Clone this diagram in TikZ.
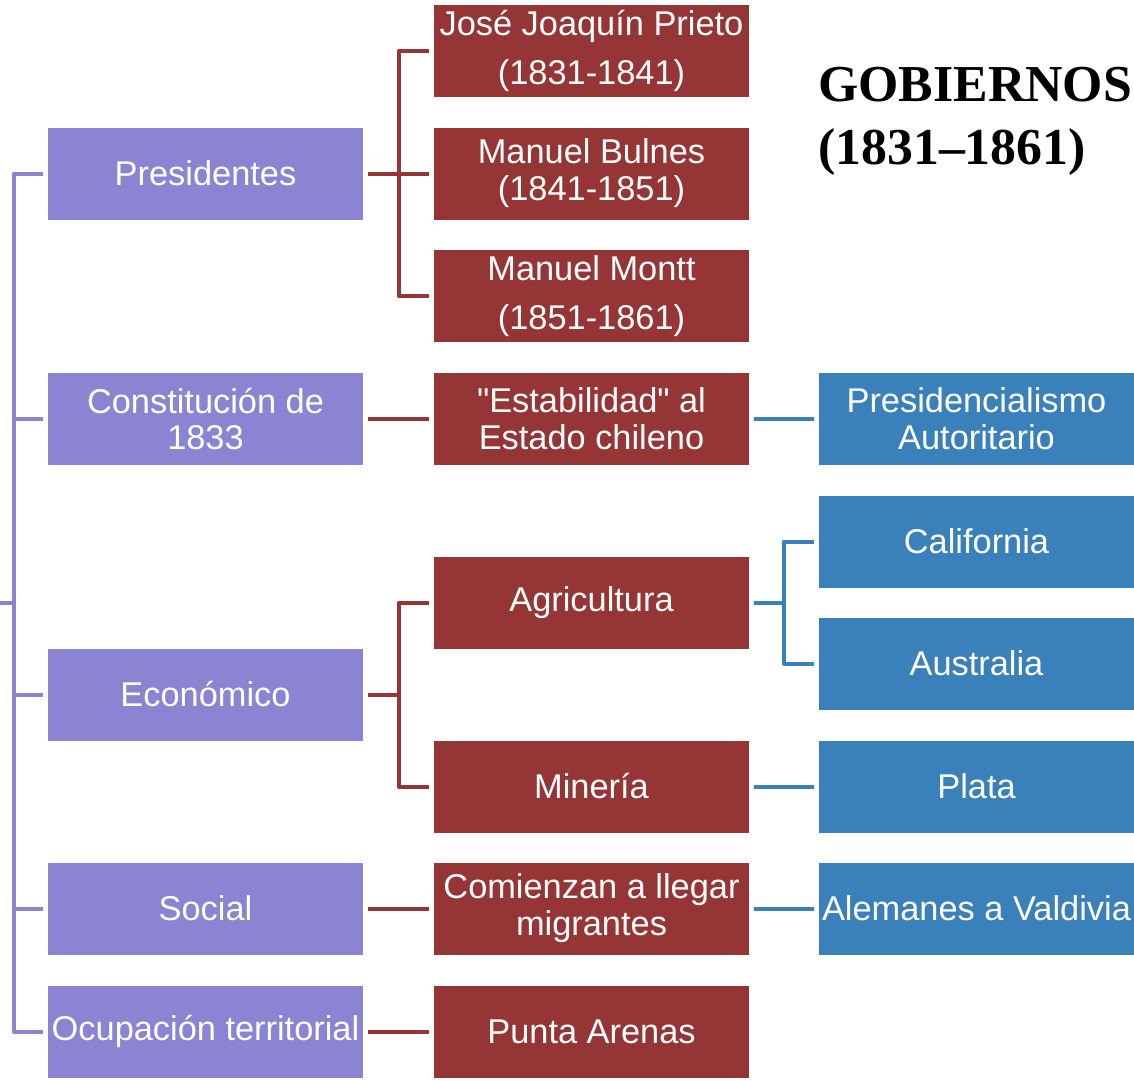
\documentclass[tikz,border=0pt]{standalone}
\usepackage{fontspec}
\setmainfont[Ligatures=TeXOff]{Liberation Sans}
\newfontfamily\titlefont{Liberation Serif}
\definecolor{cpurple}{HTML}{8A84D2}
\definecolor{cred}{HTML}{953535}
\definecolor{cblue}{HTML}{3A80BB}
\begin{document}
\begin{tikzpicture}[x=1bp,y=-1bp,
  box/.style={rectangle, minimum width=315bp, minimum height=92bp, inner sep=0pt,
    text=white, align=center, font=\fontsize{34.5}{37}\selectfont},
  pbox/.style={box, fill=cpurple},
  rbox/.style={box, fill=cred},
  bbox/.style={box, fill=cblue},
  wide/.style={font=\fontsize{34.5}{49}\selectfont},
  pline/.style={draw=cpurple, line width=4bp, line join=round},
  rline/.style={draw=cred, line width=4bp, line join=round},
  bline/.style={draw=cblue, line width=4bp, line join=round}]
\useasboundingbox (0,0) rectangle (1134,1081);
% purple column
\node[pbox] (pres) at (205.5,173.5) {Presidentes};
\node[pbox] (const) at (205.5,419) {Constitución de\\1833};
\node[pbox] (econ) at (205.5,694.5) {Económico};
\node[pbox] (soc) at (205.5,908.5) {Social};
\node[pbox] (ocup) at (205.5,1031.5) {Ocupación territorial};
% red column
\node[rbox,wide] (prieto) at (591.5,51) {José Joaquín Prieto\\(1831-1841)};
\node[rbox] (bulnes) at (591.5,173.5) {Manuel Bulnes\\(1841-1851)};
\node[rbox,wide] (montt) at (591.5,296) {Manuel Montt\\(1851-1861)};
\node[rbox] (estab) at (591.5,419) {"Estabilidad" al\\Estado chileno};
\node[rbox] (agri) at (591.5,602.5) {Agricultura};
\node[rbox] (mine) at (591.5,786.5) {Minería};
\node[rbox] (migr) at (591.5,908.5) {Comienzan a llegar\\migrantes};
\node[rbox] (punta) at (591.5,1031.5) {Punta Arenas};
% blue column
\node[bbox] (presid) at (976.5,419) {Presidencialismo\\Autoritario};
\node[bbox] (calif) at (976.5,541.5) {California};
\node[bbox] (austr) at (976.5,663.5) {Australia};
\node[bbox] (plata) at (976.5,786.5) {Plata};
\node[bbox] (alem) at (976.5,908.5) {Alemanes a Valdivia};
% title
\node[anchor=base west, inner sep=0pt, font=\titlefont\bfseries\fontsize{52}{60}\selectfont] (t1) at (818,101) {GOBIERNOS};
\node[anchor=base west, inner sep=0pt, font=\titlefont\bfseries\fontsize{52}{60}\selectfont] (t2) at (818,164) {(1831–1861)};
% left purple bracket
\coordinate (root) at (0,603);
\draw[pline] ([xshift=-5bp]pres.west) -| ([xshift=-34bp]ocup.west) -- ([xshift=-5bp]ocup.west);
\draw[pline] ([xshift=-5bp]const.west) -- ([xshift=-34bp]const.west);
\draw[pline] ([xshift=-5bp]econ.west) -- ([xshift=-34bp]econ.west);
\draw[pline] ([xshift=-5bp]soc.west) -- ([xshift=-34bp]soc.west);
\draw[pline] (root) -- ([xshift=-34bp]pres.west |- root);
% presidents bracket
\draw[rline] ([xshift=5bp]pres.east) -- ([xshift=-5bp]bulnes.west);
\draw[rline] ([xshift=-5bp]prieto.west) -| ([xshift=-35bp]montt.west) -- ([xshift=-5bp]montt.west);
% constitution
\draw[rline] ([xshift=5bp]const.east) -- ([xshift=-5bp]estab.west);
\draw[bline] ([xshift=5bp]estab.east) -- ([xshift=-5bp]presid.west);
% economic bracket
\draw[rline] ([xshift=5bp]econ.east) -- ([xshift=35bp]econ.east);
\draw[rline] ([xshift=-5bp]agri.west) -| ([xshift=-35bp]mine.west) -- ([xshift=-5bp]mine.west);
% agriculture bracket
\draw[bline] ([xshift=5bp]agri.east) -- ([xshift=35bp]agri.east);
\draw[bline] ([xshift=-5bp]calif.west) -| ([xshift=-35bp]austr.west) -- ([xshift=-5bp]austr.west);
% mining
\draw[bline] ([xshift=5bp]mine.east) -- ([xshift=-5bp]plata.west);
% social
\draw[rline] ([xshift=5bp]soc.east) -- ([xshift=-5bp]migr.west);
\draw[bline] ([xshift=5bp]migr.east) -- ([xshift=-5bp]alem.west);
% territorial
\draw[rline] ([xshift=5bp]ocup.east) -- ([xshift=-5bp]punta.west);
\end{tikzpicture}
\end{document}
